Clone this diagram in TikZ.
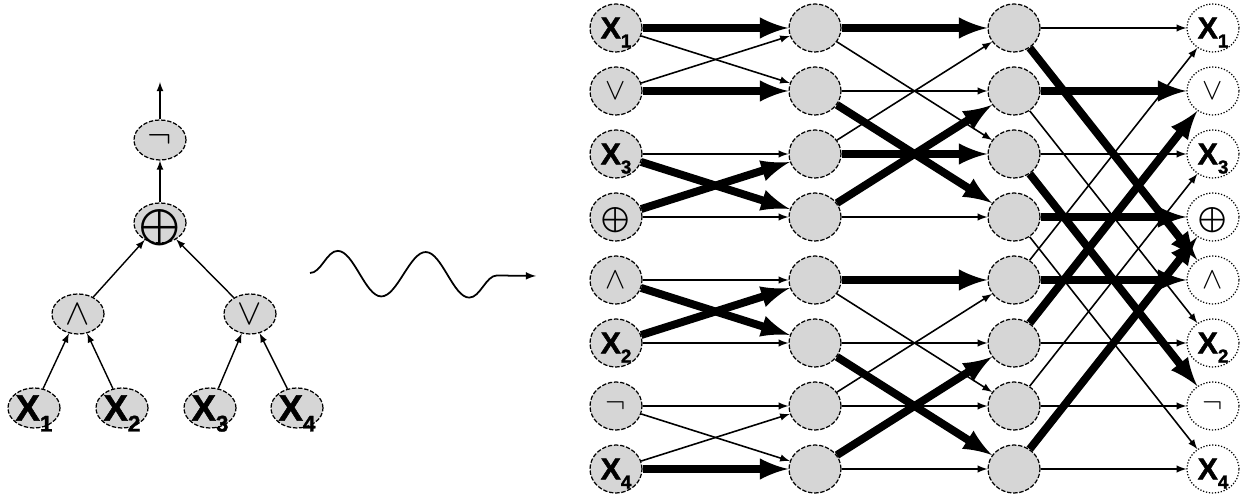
\documentclass[tikz,border=0pt]{standalone}
\usepackage{fontspec}
\setmainfont{Liberation Sans}
\newfontfamily\varfont{Liberation Sans}[FakeBold=1.4]
\usepackage{amssymb}
\usetikzlibrary{arrows,decorations.pathmorphing,positioning,shapes.geometric}

\definecolor{gatefill}{gray}{0.84}
\newcommand{\xvar}[1]{{\varfont\bfseries X\raisebox{-.3em}{\scalebox{.62}{#1}}}}

\tikzset{
  gate/.style={shape=ellipse,draw,line width=.7pt,dash pattern=on 2.5pt off 1pt,
    fill=gatefill,inner sep=-4pt,text depth=0pt,minimum width=1.04cm,minimum height=.96cm},
  treegate/.style={gate,minimum height=.8cm},
  outgate/.style={gate,densely dotted,fill=white},
  twig/.style={-latex,line width=.8pt},
  lean/.style={-latex,line width=.9pt},
  fat/.style={-latex,line width=4.5pt}
}

\begin{document}
\begin{tikzpicture}
	\useasboundingbox (0,0) rectangle (25,10.02);
	% formula tree
	\node (neg) at (3.2,7.22) [treegate] {\huge$\neg$};
	\node (xor) at (3.2,5.56) [treegate] {\huge$\bigoplus$};
	\node (and) at (1.56,3.74) [treegate] {\huge$\wedge$};
	\node (or) at (5.0,3.74) [treegate] {\huge$\vee$};
	\node (x1) at (0.68,1.86) [treegate] {\huge\xvar{1}};
	\node (x2) at (2.44,1.86) [treegate] {\huge\xvar{2}};
	\node (x3) at (4.2,1.86) [treegate] {\huge\xvar{3}};
	\node (x4) at (5.94,1.86) [treegate] {\huge\xvar{4}};
	\coordinate (root) at (3.2,8.38);
	\draw [twig] (x1) -- (and);
	\draw [twig] (x2) -- (and);
	\draw [twig] (x3) -- (or);
	\draw [twig] (x4) -- (or);
	\draw [twig] (and) -- (xor);
	\draw [twig] (or) -- (xor);
	\draw [twig] (xor) -- (neg);
	\draw [twig] (neg) -- (root);
	% squiggle
	\coordinate (wavein) at (6.2,4.56);
	\coordinate (waveout) at (10.72,4.5);
	\draw [-latex,line width=1pt,decorate,
      decoration={snake,amplitude=.45cm,segment length=1.76cm,post length=.6cm}] (wavein) -- (waveout);
	% network: inputs
	\node (in0) at (12.32,9.46) [gate] {\LARGE\xvar{1}};
	\node (in1) at (12.32,8.20) [gate] {\LARGE$\vee$};
	\node (in2) at (12.32,6.94) [gate] {\LARGE\xvar{3}};
	\node (in3) at (12.32,5.68) [gate] {\Large$\bigoplus$};
	\node (in4) at (12.32,4.42) [gate] {\LARGE$\wedge$};
	\node (in5) at (12.32,3.16) [gate] {\LARGE\xvar{2}};
	\node (in6) at (12.32,1.90) [gate] {\LARGE$\neg$};
	\node (in7) at (12.32,0.64) [gate] {\LARGE\xvar{4}};
	% network: first layer
	\node (s0) at (16.30,9.46) [gate] {};
	\node (s1) at (16.30,8.20) [gate] {};
	\node (s2) at (16.30,6.94) [gate] {};
	\node (s3) at (16.30,5.68) [gate] {};
	\node (s4) at (16.30,4.42) [gate] {};
	\node (s5) at (16.30,3.16) [gate] {};
	\node (s6) at (16.30,1.90) [gate] {};
	\node (s7) at (16.30,0.64) [gate] {};
	% network: second layer
	\node (t0) at (20.28,9.46) [gate] {};
	\node (t1) at (20.28,8.20) [gate] {};
	\node (t2) at (20.28,6.94) [gate] {};
	\node (t3) at (20.28,5.68) [gate] {};
	\node (t4) at (20.28,4.42) [gate] {};
	\node (t5) at (20.28,3.16) [gate] {};
	\node (t6) at (20.28,1.90) [gate] {};
	\node (t7) at (20.28,0.64) [gate] {};
	% network: outputs
	\node (out0) at (24.26,9.46) [outgate] {\LARGE\xvar{1}};
	\node (out1) at (24.26,8.20) [outgate] {\LARGE$\vee$};
	\node (out2) at (24.26,6.94) [outgate] {\LARGE\xvar{3}};
	\node (out3) at (24.26,5.68) [outgate] {\Large$\bigoplus$};
	\node (out4) at (24.26,4.42) [outgate] {\LARGE$\wedge$};
	\node (out5) at (24.26,3.16) [outgate] {\LARGE\xvar{2}};
	\node (out6) at (24.26,1.90) [outgate] {\LARGE$\neg$};
	\node (out7) at (24.26,0.64) [outgate] {\LARGE\xvar{4}};
	% stride 1
	\path (in0) edge[fat] (s0) edge[lean] (s1);
	\path (in1) edge[lean] (s0) edge[fat] (s1);
	\path (in2) edge[lean] (s2) edge[fat] (s3);
	\path (in3) edge[fat] (s2) edge[lean] (s3);
	\path (in4) edge[lean] (s4) edge[fat] (s5);
	\path (in5) edge[fat] (s4) edge[lean] (s5);
	\path (in6) edge[lean] (s6) edge[lean] (s7);
	\path (in7) edge[lean] (s6) edge[fat] (s7);
	% stride 2
	\path (s0) edge[fat] (t0) edge[lean] (t2);
	\path (s1) edge[lean] (t1) edge[fat] (t3);
	\path (s2) edge[lean] (t0) edge[fat] (t2);
	\path (s3) edge[fat] (t1) edge[lean] (t3);
	\path (s4) edge[fat] (t4) edge[lean] (t6);
	\path (s5) edge[lean] (t5) edge[fat] (t7);
	\path (s6) edge[lean] (t4) edge[lean] (t6);
	\path (s7) edge[fat] (t5) edge[lean] (t7);
	% stride 4
	\path (t0) edge[lean] (out0) edge[fat] (out4);
	\path (t1) edge[fat] (out1) edge[lean] (out5);
	\path (t2) edge[lean] (out2) edge[fat] (out6);
	\path (t3) edge[fat] (out3) edge[lean] (out7);
	\path (t4) edge[lean] (out0) edge[fat] (out4);
	\path (t5) edge[fat] (out1) edge[lean] (out5);
	\path (t6) edge[lean] (out2) edge[lean] (out6);
	\path (t7) edge[fat] (out3) edge[lean] (out7);
\end{tikzpicture}
\end{document}
